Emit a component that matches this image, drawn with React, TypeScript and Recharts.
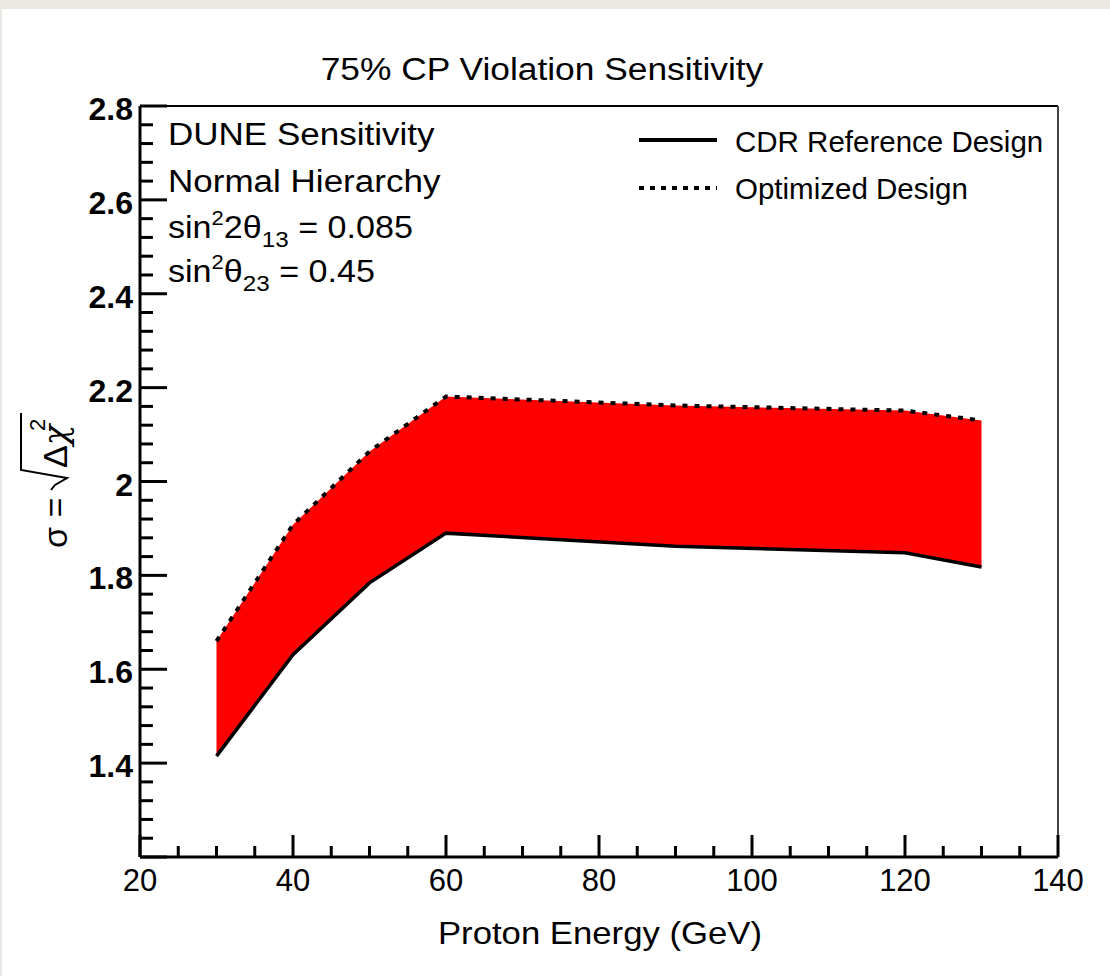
import React from "react";
import { ComposedChart, Area, Line, XAxis, YAxis, ReferenceLine } from "recharts";

// ---- data ----
const energies = [30, 40, 50, 60, 90, 120, 130];
const cdrReference = [1.415, 1.631, 1.784, 1.89, 1.862, 1.848, 1.818];
const optimized = [1.66, 1.908, 2.064, 2.181, 2.162, 2.151, 2.13];

const xMajorLabels = [20, 40, 60, 80, 100, 120, 140];
const yMajorLabels = [1.4, 1.6, 1.8, 2.0, 2.2, 2.4, 2.6, 2.8];
const xDomain = [20, 140];
const yDomain = [1.2, 2.8];
const xMinorStep = 5;
const yMinorStep = 0.04;

const data = energies.map((e, i) => ({
  energy: e,
  cdr: cdrReference[i],
  opt: optimized[i],
  band: [cdrReference[i], optimized[i]],
}));

const xTicks: number[] = [];
for (let v = xDomain[0]; v <= xDomain[1] + 1e-9; v += xMinorStep) xTicks.push(+v.toFixed(4));
const yTicks: number[] = [];
for (let k = 0; yDomain[0] + k * yMinorStep <= yDomain[1] + 1e-9; k++)
  yTicks.push(+(yDomain[0] + k * yMinorStep).toFixed(4));

const FONT = '"Liberation Sans", Arial, Helvetica, sans-serif';

const YTick = (props: any) => {
  const { x, y, payload } = props;
  const v = payload.value as number;
  const major = Math.abs(v * 5 - Math.round(v * 5)) < 1e-6;
  const label = yMajorLabels.find((m) => Math.abs(m - v) < 1e-6);
  return (
    <g>
      <line x1={x} y1={y} x2={x + (major ? 27 : 13)} y2={y} stroke="#000" strokeWidth={3} />
      {label !== undefined && (
        <text x={x - 7} y={y + 14} textAnchor="end" fontFamily={FONT} fontWeight="bold" fontSize={32} fill="#000">
          {String(label)}
        </text>
      )}
    </g>
  );
};

const XTick = (props: any) => {
  const { x, y, payload } = props;
  const v = payload.value as number;
  const major = v % 20 === 0;
  const label = xMajorLabels.find((m) => m === v);
  return (
    <g>
      <line x1={x} y1={y} x2={x} y2={y - (major ? 22 : 11)} stroke="#000" strokeWidth={3} />
      {label !== undefined && (
        <text x={x} y={y + 34} textAnchor="middle" fontFamily={FONT} fontSize={31} fill="#000">
          {String(label)}
        </text>
      )}
    </g>
  );
};

const Overlay = () => (
  <svg
    width={1110}
    height={976}
    style={{ position: "absolute", left: 0, top: 0, pointerEvents: "none" }}
    fontFamily={FONT}
  >
    {/* title */}
    <g transform="translate(542,80) scale(1.14,1)">
      <text textAnchor="middle" fontSize={31} fill="#000">75% CP Violation Sensitivity</text>
    </g>
    {/* info box */}
    <g transform="translate(168,145) scale(1.13,1)">
      <text fontSize={31} fill="#000">DUNE Sensitivity</text>
    </g>
    <g transform="translate(168,192) scale(1.13,1)">
      <text fontSize={31} fill="#000">Normal Hierarchy</text>
    </g>
    <g transform="translate(168,238) scale(1.1,1)">
      <text fontSize={31} fill="#000">
        sin<tspan dy={-13} fontSize={20}>2</tspan>
        <tspan dy={13}>2θ</tspan>
        <tspan dy={9} fontSize={22}>13</tspan>
        <tspan dy={-9}> = 0.085</tspan>
      </text>
    </g>
    <g transform="translate(168,282) scale(1.1,1)">
      <text fontSize={31} fill="#000">
        sin<tspan dy={-13} fontSize={20}>2</tspan>
        <tspan dy={13}>θ</tspan>
        <tspan dy={9} fontSize={22}>23</tspan>
        <tspan dy={-9}> = 0.45</tspan>
      </text>
    </g>
    {/* legend */}
    <line x1={639} y1={140} x2={717} y2={140} stroke="#000" strokeWidth={4} />
    <text x={735} y={152} fontSize={29.5} fill="#000">CDR Reference Design</text>
    <line x1={639} y1={188} x2={717} y2={188} stroke="#000" strokeWidth={4} strokeDasharray="5 6" />
    <text x={735} y={199} fontSize={29.5} fill="#000">Optimized Design</text>
    {/* y axis title */}
    <g transform="translate(67,481) rotate(-90)">
      <text x={-67} y={0} fontSize={34} fill="#000">σ =</text>
      <path d="M -9 -16 L -4 -12 L 3 0 L 11 -46 L 68 -46" fill="none" stroke="#000" strokeWidth={2} />
      <text x={13} y={0} fontSize={34} fill="#000">Δ<tspan fontStyle="italic" fontFamily='"DejaVu Serif", serif'>χ</tspan></text>
      <text x={50} y={-22} fontSize={22} fill="#000">2</text>
    </g>
    {/* x axis title */}
    <g transform="translate(600,944) scale(1.12,1)">
      <text textAnchor="middle" fontSize={31} fill="#000">Proton Energy (GeV)</text>
    </g>
  </svg>
);

export default function App() {
  return (
    <div style={{ position: "absolute", left: 0, top: 0, width: 1110, height: 976, background: "#ebe8e3", overflow: "hidden" }}>
      <div style={{ position: "absolute", left: 2, top: 9, right: 0, bottom: 0, background: "#ffffff" }} />
      <div style={{ position: "absolute", left: 0, top: 0 }}>
        <ComposedChart width={1110} height={976} data={data} margin={{ top: 106, right: 52, bottom: 0, left: 0 }}>
          <XAxis
            type="number"
            dataKey="energy"
            domain={xDomain}
            ticks={xTicks}
            interval={0}
            height={119}
            tickSize={0}
            tickMargin={0}
            tickLine={false}
            axisLine={{ stroke: "#000", strokeWidth: 3 }}
            tick={<XTick />}
            allowDataOverflow
          />
          <YAxis
            type="number"
            domain={yDomain}
            ticks={yTicks}
            interval={0}
            width={140}
            tickSize={0}
            tickMargin={0}
            tickLine={false}
            axisLine={{ stroke: "#000", strokeWidth: 3 }}
            tick={<YTick />}
            allowDataOverflow
          />
          <ReferenceLine y={2.8} stroke="#000" strokeWidth={2} />
          <ReferenceLine x={140} stroke="#444" strokeWidth={2} />
          <Area
            type="linear"
            dataKey="band"
            fill="#ff0000"
            fillOpacity={1}
            stroke="none"
            isAnimationActive={false}
            dot={false}
            activeDot={false}
          />
          <Line
            type="linear"
            dataKey="cdr"
            stroke="#000"
            strokeWidth={3.5}
            dot={false}
            activeDot={false}
            isAnimationActive={false}
          />
          <Line
            type="linear"
            dataKey="opt"
            stroke="#000"
            strokeWidth={4}
            strokeDasharray="5 7"
            dot={false}
            activeDot={false}
            isAnimationActive={false}
          />
        </ComposedChart>
      </div>
      <Overlay />
    </div>
  );
}
